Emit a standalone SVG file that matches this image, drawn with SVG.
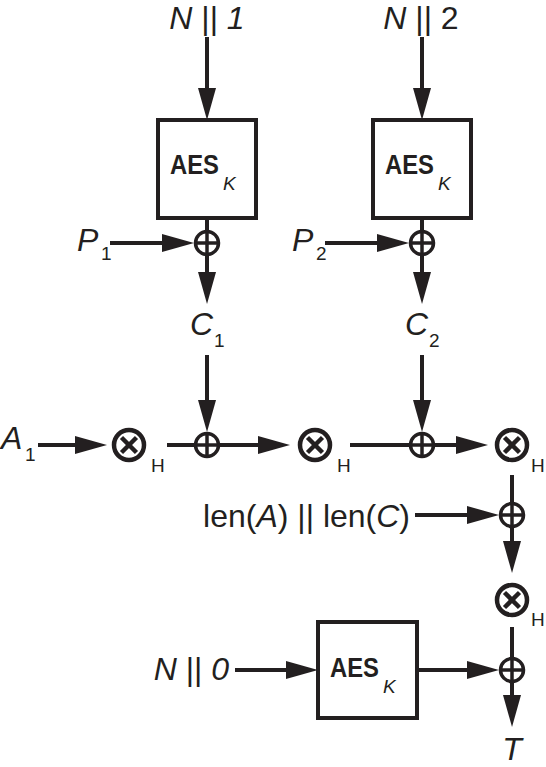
<svg xmlns="http://www.w3.org/2000/svg" width="546" height="767" viewBox="0 0 546 767">
<defs>
<style>
.ln{stroke:#231f20;stroke-width:4;fill:none}
.box{stroke:#231f20;stroke-width:4;fill:#fff}
.xr{stroke:#231f20;stroke-width:3.5;fill:#fff}
.gm{stroke:#231f20;stroke-width:4.5;fill:#fff}
.t{font-family:"Liberation Sans",Arial,sans-serif;fill:#231f20;font-size:32px}
.i{font-style:italic}
.sub{font-size:19px}
.aes{font-family:"Liberation Sans",Arial,sans-serif;font-weight:bold;font-size:27px;fill:#231f20}
.k{font-family:"Liberation Sans",Arial,sans-serif;font-style:italic;font-size:19px;fill:#231f20}
.h{font-family:"Liberation Sans",Arial,sans-serif;font-size:19px;fill:#231f20}
</style>
<marker id="ah" markerUnits="userSpaceOnUse" markerWidth="32" markerHeight="18" refX="22" refY="9" orient="auto">
<path d="M0,0 L32,9 L0,18 z" fill="#231f20"/>
</marker>
<g id="xorSym">
<circle class="xr" cx="0" cy="0" r="11.5"/>
<line class="xr" x1="-11.5" y1="0" x2="11.5" y2="0"/>
<line class="xr" x1="0" y1="-11.5" x2="0" y2="11.5"/>
</g>
<g id="gmSym">
<circle class="gm" cx="0" cy="0" r="15"/>
<line class="gm" x1="-7.5" y1="-7.5" x2="7.5" y2="7.5"/>
<line class="gm" x1="-7.5" y1="7.5" x2="7.5" y2="-7.5"/>
</g>
</defs>
<rect width="546" height="767" fill="#fff"/>

<g id="connectors">
<line class="ln" x1="207" y1="37" x2="207" y2="110" marker-end="url(#ah)"/>
<line class="ln" x1="422" y1="37" x2="422" y2="110" marker-end="url(#ah)"/>
<line class="ln" x1="207" y1="218" x2="207" y2="294" marker-end="url(#ah)"/>
<line class="ln" x1="422" y1="218" x2="422" y2="294" marker-end="url(#ah)"/>
<line class="ln" x1="110" y1="243" x2="184" y2="243" marker-end="url(#ah)"/>
<line class="ln" x1="325" y1="243" x2="399" y2="243" marker-end="url(#ah)"/>
<line class="ln" x1="207" y1="355" x2="207" y2="422" marker-end="url(#ah)"/>
<line class="ln" x1="422" y1="355" x2="422" y2="422" marker-end="url(#ah)"/>
<line class="ln" x1="38" y1="445" x2="97" y2="445" marker-end="url(#ah)"/>
<line class="ln" x1="167" y1="445" x2="280" y2="445" marker-end="url(#ah)"/>
<line class="ln" x1="350" y1="445" x2="478" y2="445" marker-end="url(#ah)"/>
<line class="ln" x1="512" y1="475" x2="512" y2="563" marker-end="url(#ah)"/>
<line class="ln" x1="415" y1="515" x2="489" y2="515" marker-end="url(#ah)"/>
<line class="ln" x1="512" y1="627" x2="512" y2="717" marker-end="url(#ah)"/>
<line class="ln" x1="235" y1="670" x2="308" y2="670" marker-end="url(#ah)"/>
<line class="ln" x1="417" y1="670" x2="489" y2="670" marker-end="url(#ah)"/>
</g>

<g id="aes1">
<rect class="box" x="158" y="120" width="98" height="98"/>
<text class="aes" x="170" y="174" textLength="49" lengthAdjust="spacingAndGlyphs">AES</text>
<text class="k" x="223" y="190">K</text>
</g>
<g id="aes2">
<rect class="box" x="373" y="120" width="98" height="98"/>
<text class="aes" x="385" y="174" textLength="49" lengthAdjust="spacingAndGlyphs">AES</text>
<text class="k" x="438" y="190">K</text>
</g>
<g id="aes3">
<rect class="box" x="318" y="622" width="99" height="96"/>
<text class="aes" x="330" y="677" textLength="49" lengthAdjust="spacingAndGlyphs">AES</text>
<text class="k" x="383" y="693">K</text>
</g>

<g id="xor1"><use href="#xorSym" x="207" y="243"/></g>
<g id="xor2"><use href="#xorSym" x="422" y="243"/></g>
<g id="xor3"><use href="#xorSym" x="207" y="445"/></g>
<g id="xor4"><use href="#xorSym" x="422" y="445"/></g>
<g id="xor5"><use href="#xorSym" x="512" y="515"/></g>
<g id="xor6"><use href="#xorSym" x="512" y="670"/></g>

<g id="gmul1"><use href="#gmSym" x="129" y="445"/><text class="h" x="151" y="472">H</text></g>
<g id="gmul2"><use href="#gmSym" x="315" y="445"/><text class="h" x="337" y="472">H</text></g>
<g id="gmul3"><use href="#gmSym" x="512" y="445"/><text class="h" x="531" y="472">H</text></g>
<g id="gmul4"><use href="#gmSym" x="512" y="600"/><text class="h" x="531" y="626">H</text></g>

<g id="labels">
<text class="t" x="207" y="29" text-anchor="middle"><tspan class="i">N</tspan> || <tspan class="i">1</tspan></text>
<text class="t" x="421" y="29" text-anchor="middle"><tspan class="i">N</tspan> || 2</text>
<text class="t i" x="77" y="251">P</text><text class="t sub" x="101" y="260">1</text>
<text class="t i" x="292" y="251">P</text><text class="t sub" x="316" y="260">2</text>
<text class="t i" x="190" y="335">C</text><text class="t sub" x="214" y="347">1</text>
<text class="t i" x="405" y="335">C</text><text class="t sub" x="429" y="347">2</text>
<text class="t i" x="1" y="449">A</text><text class="t sub" x="25" y="461">1</text>
<text class="t" x="410" y="527" text-anchor="end">len(<tspan class="i">A</tspan>) || len(<tspan class="i">C</tspan>)</text>
<text class="t" x="229" y="680" text-anchor="end"><tspan class="i">N</tspan> || <tspan class="i">0</tspan></text>
<text class="t i" x="512" y="760" text-anchor="middle">T</text>
</g>
</svg>
